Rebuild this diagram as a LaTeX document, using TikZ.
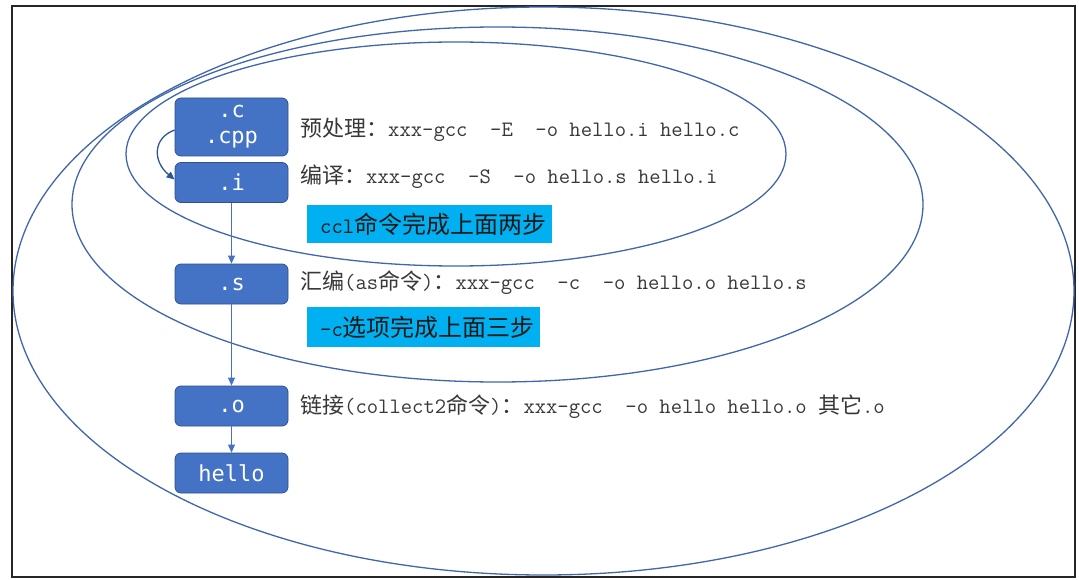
\documentclass[tikz,border=0pt]{standalone}
\usepackage{fontspec}
\usetikzlibrary{arrows.meta}
\newfontfamily\cjk{Noto Sans CJK SC}
\newfontfamily\boxmono{DejaVu Sans Mono}
\definecolor{boxblue}{HTML}{4472C4}
\definecolor{boxedge}{HTML}{2F528F}
\definecolor{ringblue}{HTML}{4066AC}
\definecolor{cyanfill}{HTML}{00B0F0}
\definecolor{txtgray}{HTML}{383838}
\definecolor{curvblue}{HTML}{2F5597}
\newcommand{\C}[1]{{\cjk #1}}
\begin{document}
\begin{tikzpicture}[x=1pt,y=-1pt,
  blk/.style={draw=boxedge,line width=0.8pt,fill=boxblue,rounded corners=6pt,
    minimum width=113pt,minimum height=40pt,inner sep=0pt,text=white,align=center,
    font=\boxmono\fontsize{22}{28}\selectfont},
  txt/.style={anchor=west,inner sep=0pt,text=txtgray,font=\ttfamily\fontsize{22}{26}\selectfont},
  cybox/.style={fill=cyanfill,anchor=north west,inner xsep=13pt,inner ysep=0pt,align=left,
    text=black!90,font=\ttfamily\fontsize{22}{26}\selectfont},
  ring/.style={draw=ringblue,line width=1.3pt},
  arr/.style={draw=boxblue,line width=0.8pt,-{Triangle[width=7pt,length=8pt]}},
  carr/.style={draw=curvblue,line width=1.3pt,-{Triangle[width=7pt,length=8pt]}}]
\useasboundingbox (0,0) rectangle (1079,580);
\fill[white] (0,0) rectangle (1079,580);
% frame
\draw[line width=1.3pt,black!85] (12,6) rectangle (1075,577);
% ellipses
\draw[ring] (543.5,291) ellipse [x radius=530.5pt,y radius=284pt];
\draw[ring] (497.5,204.5) ellipse [x radius=425.5pt,y radius=177.5pt];
\draw[ring] (456,154) ellipse [x radius=330pt,y radius=112pt];
% boxes
\node[blk,minimum height=58pt] (c) at (231.5,127) {.c\\[-2pt].cpp};
\node[blk] (i) at (231.5,182.5) {.i};
\node[blk] (s) at (231.5,284) {.s};
\node[blk] (o) at (231.5,406) {.o};
\node[blk] (h) at (231.5,473) {hello};
% connectors
\draw[carr] ([yshift=-3pt]c.west) .. controls +(-22,8) and +(-22,-18) .. ([yshift=3pt]i.west);
\draw[arr] (i) -- (s);
\draw[arr] (s) -- (o);
\draw[arr] (o) -- (h);
% texts
\node[txt] (t1) at (300,130) {\C{预处理：}xxx-gcc~~-E~~-o hello.i hello.c};
\node[txt] (t2) at (300,177) {\C{编译：}xxx-gcc~~-S~~-o hello.s hello.i};
\node[txt] (t3) at (300,283) {\C{汇编}(as\C{命令})\C{：}xxx-gcc~~-c~~-o hello.o hello.s};
\node[txt] (t4) at (300,407) {\C{链接}(collect2\C{命令})\C{：}xxx-gcc~~-o hello hello.o \C{其它}.o};
% cyan notes
\node[cybox,text width=219pt,minimum height=38pt] (n1) at (307,205) {ccl{\cjk\fontsize{24}{28}\selectfont 命令完成上面两步}};
\node[cybox,text width=207pt,minimum height=40pt] (n2) at (307,307) {-c{\cjk\fontsize{24}{28}\selectfont 选项完成上面三步}};
\end{tikzpicture}
\end{document}
